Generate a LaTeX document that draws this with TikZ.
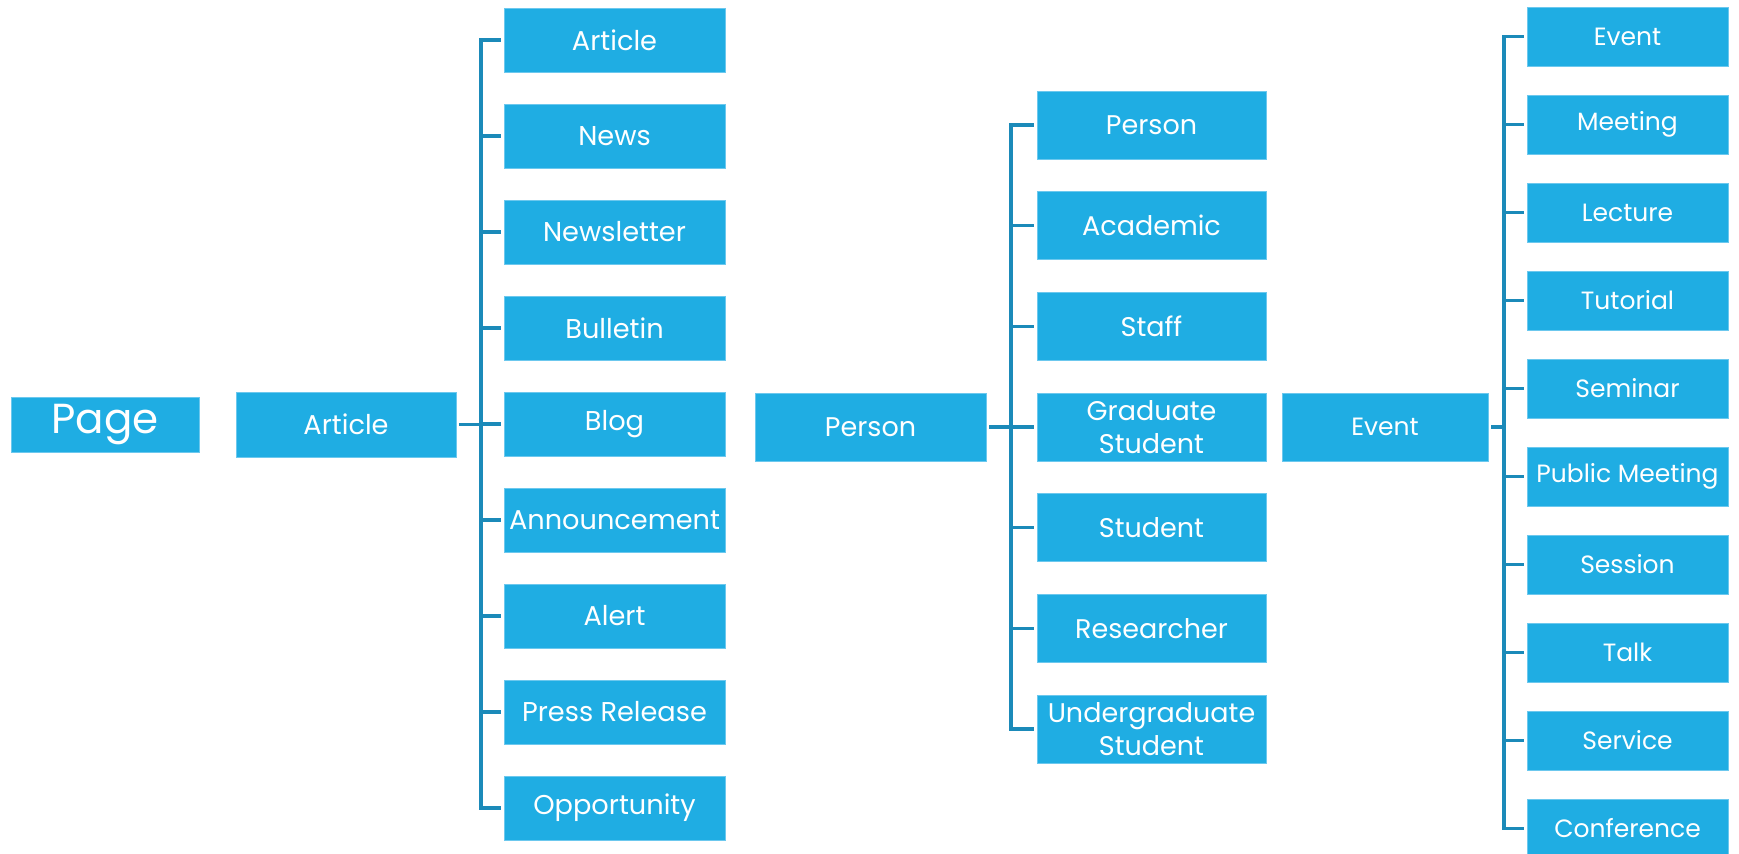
\documentclass[tikz,border=0pt]{standalone}
\usepackage{fontspec}
\setmainfont{Poppins}
\definecolor{boxblue}{HTML}{1FADE3}
\definecolor{boxedge}{HTML}{6CC8EE}
\definecolor{linkblue}{HTML}{1B8AB9}
\begin{document}
\begin{tikzpicture}[x=0.5pt,y=-0.5pt,
  box/.style={fill=boxblue,draw=boxedge,line width=0.4pt,text=white,inner sep=0pt,align=center},
  pagebox/.style={box,minimum width=94pt,minimum height=27.5pt,font=\fontsize{21pt}{24pt}\selectfont},
  acol/.style={box,minimum width=110.5pt,minimum height=32pt,font=\fontsize{13.6pt}{16.5pt}\selectfont},
  pcol/.style={box,minimum width=114.5pt,minimum height=34pt,font=\fontsize{13.5pt}{16.5pt}\selectfont},
  ecol/.style={box,minimum width=100.5pt,minimum height=29.5pt,font=\fontsize{12.5pt}{15pt}\selectfont},
  conn/.style={draw=linkblue,line width=1.6pt},
  stub/.style={conn,shorten >=1.5pt}
]
\clip (0,0) rectangle (1739,853);
\fill[white] (0,0) rectangle (1739,853);

% Level 1
\node[pagebox] (page) at (105,424.5) {Page};
\node[acol,minimum width=110pt,minimum height=32.5pt] (art) at (346,424.5) {Article};
\node[pcol,minimum width=115.5pt] (per) at (870.5,427) {Person};
\node[ecol,minimum width=103pt,minimum height=34pt] (evt) at (1385,427) {Event};

% Bus coordinates
\coordinate (abus) at (481,424.5);
\coordinate (pbus) at (1011,427);
\coordinate (ebus) at (1504,427);

% Article children
\foreach \t [count=\i from 0] in {Article,News,Newsletter,Bulletin,Blog,Announcement,Alert,Press Release,Opportunity}{
  \node[acol] (a\i) at (614.5,40+96*\i) {\t};
}
% Person children
\node[pcol] (p0) at (1151.5,125) {Person};
\node[pcol] (p1) at (1151.5,225.7) {Academic};
\node[pcol] (p2) at (1151.5,326.3) {Staff};
\node[pcol] (p3) at (1151.5,427) {Graduate\\Student};
\node[pcol] (p4) at (1151.5,527.7) {Student};
\node[pcol] (p5) at (1151.5,628.3) {Researcher};
\node[pcol] (p6) at (1151.5,729) {Undergraduate\\Student};
% Event children
\foreach \t [count=\i from 0] in {Event,Meeting,Lecture,Tutorial,Seminar,Public Meeting,Session,Talk,Service,Conference}{
  \node[ecol] (e\i) at (1627.5,36.5+88*\i) {\t};
}

% Connectors
\draw[conn,shorten <=1.5pt] (art.east) -- (abus);
\foreach \i in {0,...,8}{ \draw[stub] (abus) |- (a\i.west); }
\draw[conn,shorten <=1.5pt] (per.east) -- (pbus);
\foreach \i in {0,...,6}{ \draw[stub] (pbus) |- (p\i.west); }
\draw[conn,shorten <=1.5pt] (evt.east) -- (ebus);
\foreach \i in {0,...,9}{ \draw[stub] (ebus) |- (e\i.west); }
\end{tikzpicture}
\end{document}
